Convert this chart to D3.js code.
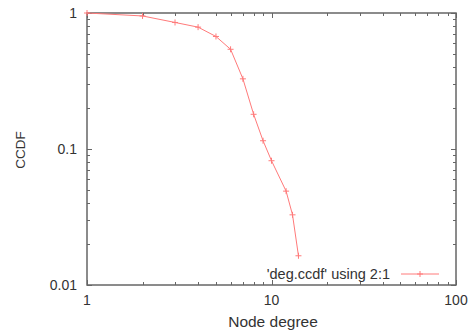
<!DOCTYPE html>
<html><head><meta charset="utf-8">
<script src="https://cdn.jsdelivr.net/npm/d3@7"></script>
<style>
html,body{margin:0;padding:0;background:#fff;}
text{font-family:"Liberation Sans",Arial,sans-serif;fill:#333;}
</style></head>
<body><svg id="c" width="475" height="334"></svg>
<script>
const degree = [1, 2, 3, 4, 5, 6, 7, 8, 9, 10, 12, 13, 14];
const ccdf = [1, 0.951, 0.852, 0.787, 0.672, 0.541, 0.328, 0.180, 0.115, 0.082, 0.049, 0.0328, 0.0164];
const xTickLabels = ["1", "10", "100"];
const yTickLabels = ["1", "0.1", "0.01"];
const xTickValues = [1, 10, 100];
const yTickValues = [1, 0.1, 0.01];
const seriesName = "'deg.ccdf' using 2:1";
const xTitle = "Node degree";
const yTitle = "CCDF";

const svg = d3.select("#c");
const L = 87, R = 456, T = 13, B = 285;
const x = d3.scaleLog().domain([1, 100]).range([L, R]);
const y = d3.scaleLog().domain([0.01, 1]).range([B, T]);
const axisColor = "#666";

// ticks (inside, mirrored)
const xAll = x.ticks();
const yAll = y.ticks();
const isMajor = v => Math.abs(Math.log10(v) - Math.round(Math.log10(v))) < 1e-9;
const g = svg.append("g").attr("stroke", axisColor).attr("stroke-width", 1);
xAll.forEach(v => {
  const len = isMajor(v) ? 5 : 3;
  const px = Math.round(x(v)) + 0.5;
  g.append("line").attr("x1", px).attr("x2", px).attr("y1", B).attr("y2", B - len);
  g.append("line").attr("x1", px).attr("x2", px).attr("y1", T).attr("y2", T + len);
});
yAll.forEach(v => {
  const len = isMajor(v) ? 5 : 3;
  const py = Math.round(y(v)) + 0.5;
  g.append("line").attr("y1", py).attr("y2", py).attr("x1", L).attr("x2", L + len);
  g.append("line").attr("y1", py).attr("y2", py).attr("x1", R).attr("x2", R - len);
});

// frame
svg.append("rect").attr("x", L).attr("y", T).attr("width", R - L).attr("height", B - T)
  .attr("fill", "none").attr("stroke", axisColor).attr("stroke-width", 1.5);

// tick labels
xTickValues.forEach((v, i) => {
  svg.append("text").attr("x", x(v)).attr("y", 305).attr("text-anchor", "middle")
    .attr("font-size", 14).text(xTickLabels[i]);
});
yTickValues.forEach((v, i) => {
  svg.append("text").attr("x", 77).attr("y", y(v) + 5).attr("text-anchor", "end")
    .attr("font-size", 14).text(yTickLabels[i]);
});

// titles
svg.append("text").attr("x", 273).attr("y", 327).attr("text-anchor", "middle")
  .attr("font-size", 15.5).text(xTitle);
svg.append("text").attr("transform", "translate(25,150) rotate(-90)").attr("text-anchor", "middle")
  .attr("font-size", 13.5).text(yTitle);

// series
const lineColor = "#ff7a7a";
const pts = degree.map((d, i) => [d, ccdf[i]]);
svg.append("path").datum(pts)
  .attr("d", d3.line().x(d => x(d[0])).y(d => y(d[1])))
  .attr("fill", "none").attr("stroke", lineColor).attr("stroke-width", 1);
const m = 3;
svg.append("g").selectAll("path").data(pts).join("path")
  .attr("d", d => {
    const cx = x(d[0]), cy = y(d[1]);
    return `M${cx - m},${cy}H${cx + m}M${cx},${cy - m}V${cy + m}`;
  })
  .attr("stroke", lineColor).attr("stroke-width", 1);

// legend
svg.append("text").attr("x", 390).attr("y", 278.5).attr("text-anchor", "end")
  .attr("font-size", 14.5).text(seriesName);
svg.append("line").attr("x1", 401).attr("x2", 439).attr("y1", 274).attr("y2", 274)
  .attr("stroke", lineColor).attr("stroke-width", 1);
svg.append("path").attr("d", `M${420 - m},274H${420 + m}M420,${274 - m}V${274 + m}`)
  .attr("stroke", lineColor).attr("stroke-width", 1);
</script></body></html>
